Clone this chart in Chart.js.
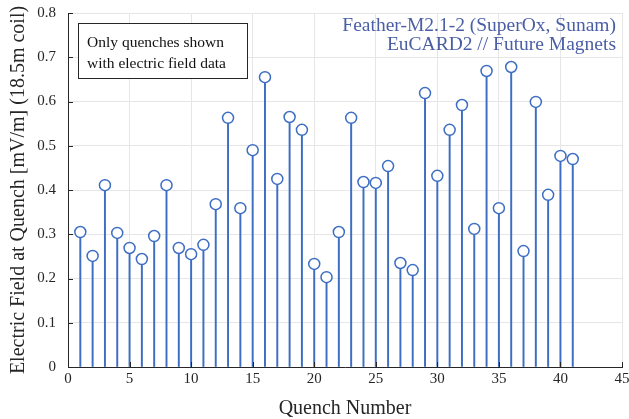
<!DOCTYPE html>
<html><head>
<meta charset="utf-8">
<script src="https://cdn.jsdelivr.net/npm/chart.js@4"></script>
<style>html,body{margin:0;padding:0;background:#fff}#wrap{width:629px;height:419px}</style>
</head><body>
<div id="wrap"><canvas id="c"></canvas></div>
<script>
const quench = [1,2,3,4,5,6,7,8,9,10,11,12,13,14,15,16,17,18,19,20,21,22,23,24,25,26,27,28,29,30,31,32,33,34,35,36,37,38,39,40,41];
const efield = [0.305,0.251,0.411,0.303,0.269,0.244,0.296,0.411,0.269,0.255,0.276,0.368,0.563,0.359,0.490,0.655,0.425,0.565,0.536,0.233,0.203,0.305,0.563,0.418,0.416,0.454,0.235,0.219,0.619,0.432,0.536,0.592,0.312,0.669,0.359,0.678,0.262,0.599,0.389,0.477,0.470];
const xTicks = [0,5,10,15,20,25,30,35,40,45];
const yTicks = [0,0.1,0.2,0.3,0.4,0.5,0.6,0.7,0.8];
const titleLines = ['Feather-M2.1-2 (SuperOx, Sunam)','EuCARD2 // Future Magnets'];
const noteLines = ['Only quenches shown','with electric field data'];

const points = quench.map((q,i)=>({x:q,y:efield[i]}));
const SERIF = '"Liberation Serif","DejaVu Serif",serif';
const BLUE = '#3d6ec4';

const innerTicks = {
  id:'innerTicks',
  afterDatasetsDraw(chart){
    const {ctx, chartArea:a, scales:{x,y}} = chart;
    ctx.save();
    ctx.strokeStyle='#262626'; ctx.lineWidth=1;
    ctx.beginPath();
    xTicks.forEach(v=>{const px=Math.round(x.getPixelForValue(v))+0.5; ctx.moveTo(px,a.bottom); ctx.lineTo(px,a.bottom-5);});
    yTicks.forEach(v=>{const py=Math.round(y.getPixelForValue(v))+0.5; ctx.moveTo(a.left,py); ctx.lineTo(a.left+5,py);});
    ctx.stroke();
    ctx.restore();
  },
  afterDraw(chart){
    const {ctx} = chart;
    ctx.save();
    ctx.fillStyle='#4a5ea6';
    ctx.textAlign='right'; ctx.textBaseline='middle';
    ctx.font='19.5px '+SERIF;
    ctx.fillText(titleLines[0], 616, 26);
    ctx.fillText(titleLines[1], 616, 45);
    // note box
    ctx.fillStyle='#fff';
    ctx.fillRect(78.5,23.5,169,55);
    ctx.strokeStyle='#262626'; ctx.lineWidth=1;
    ctx.strokeRect(78.5,23.5,169,55);
    ctx.fillStyle='#111';
    ctx.textAlign='left';
    ctx.font='15.5px '+SERIF;
    ctx.fillText(noteLines[0], 87, 43);
    ctx.fillText(noteLines[1], 87, 64);
    ctx.restore();
  }
};

new Chart(document.getElementById('c'), {
  data:{
    datasets:[
      {type:'bar', data:points, backgroundColor:BLUE, borderWidth:0, barThickness:1.3, grouped:false, order:2},
      {type:'scatter', data:points, pointStyle:'circle', pointRadius:5.5, pointBorderWidth:1.5, pointBorderColor:BLUE, pointBackgroundColor:'#fff', showLine:false, order:1}
    ]
  },
  options:{
    responsive:true, maintainAspectRatio:false, animation:false,
    layout:{padding:{top:13,right:7,left:0,bottom:0}},
    plugins:{legend:{display:false}, tooltip:{enabled:false}},
    scales:{
      x:{type:'linear', min:0, max:45, offset:false,
        afterBuildTicks(s){s.ticks=xTicks.map(v=>({value:v}));},
        afterFit(s){s.height=52; s.paddingRight=0; s.paddingLeft=0;},
        ticks:{font:{family:SERIF,size:15}, color:'#262626', padding:3, maxRotation:0, autoSkip:false},
        grid:{color:'#e6e6e6', drawTicks:false, offset:false},
        border:{color:'#262626', width:1},
        title:{display:true, text:'Quench Number', font:{family:SERIF,size:20,lineHeight:1}, color:'#262626', padding:{top:0,bottom:0}}
      },
      y:{type:'linear', min:0, max:0.8,
        afterBuildTicks(s){s.ticks=yTicks.map(v=>({value:v}));},
        afterFit(s){s.width=68; s.paddingTop=0; s.paddingBottom=0;},
        ticks:{font:{family:SERIF,size:15}, color:'#262626', padding:12, callback:v=>v===0?'0':v.toFixed(1)},
        grid:{color:'#e6e6e6', drawTicks:false},
        border:{color:'#262626', width:1},
        title:{display:true, text:'Electric Field at Quench [mV/m] (18.5m coil)', font:{family:SERIF,size:20}, color:'#262626', padding:{top:7,bottom:0}}
      }
    }
  },
  plugins:[innerTicks]
});
</script>
</body></html>
